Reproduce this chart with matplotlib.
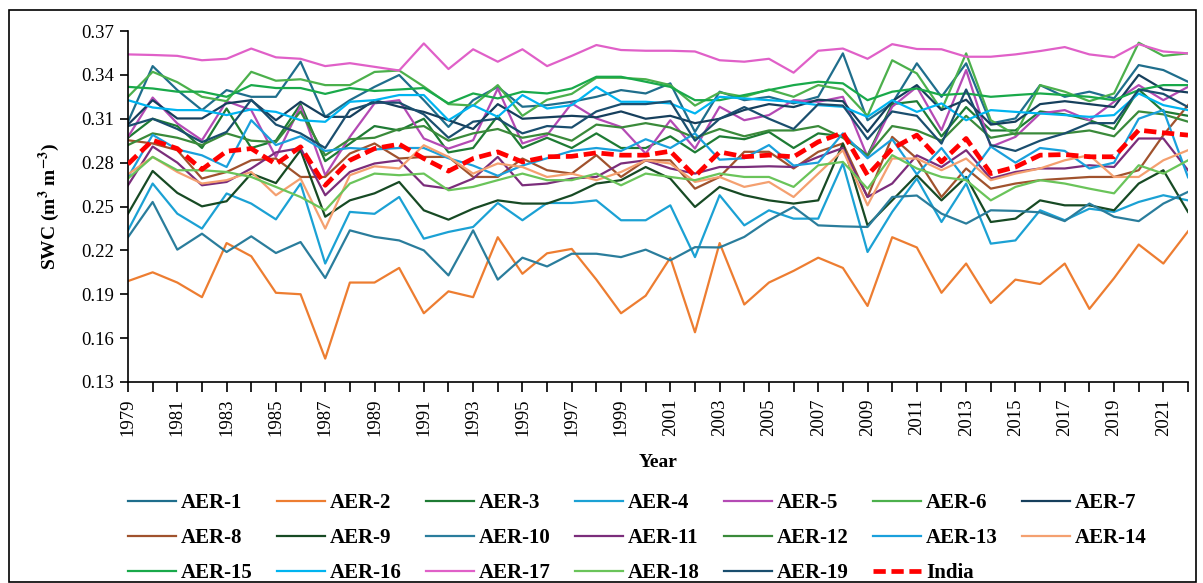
import matplotlib
matplotlib.use("Agg")
import matplotlib.pyplot as plt
from matplotlib.patches import Rectangle

plt.rcParams['font.family'] = ['Liberation Serif', 'DejaVu Serif']
plt.rcParams['mathtext.fontset'] = 'stix'

years = list(range(1979, 2023))

aer1 = [0.3079, 0.346, 0.3296, 0.3159, 0.3296, 0.325, 0.325, 0.349, 0.3113, 0.3227, 0.3318, 0.3399, 0.3227, 0.3044,
        0.3227, 0.3318, 0.3182, 0.3193, 0.3216, 0.325, 0.3296, 0.3273, 0.3342, 0.301, 0.3285, 0.3227, 0.325, 0.3205,
        0.325, 0.3547, 0.309, 0.3205, 0.3479, 0.325, 0.3479, 0.3068, 0.3102, 0.333, 0.325, 0.3285, 0.3239, 0.3467,
        0.3433, 0.3353]
aer2 = [0.199, 0.205, 0.198, 0.188, 0.225, 0.216, 0.191, 0.190, 0.146, 0.198, 0.198, 0.208, 0.177, 0.192,
        0.188, 0.229, 0.204, 0.218, 0.221, 0.200, 0.177, 0.189, 0.215, 0.164, 0.225, 0.183, 0.198, 0.206,
        0.215, 0.208, 0.182, 0.229, 0.222, 0.191, 0.211, 0.184, 0.200, 0.197, 0.211, 0.180, 0.201, 0.224,
        0.211, 0.233]
aer3 = [0.297, 0.31, 0.305, 0.29, 0.317, 0.29, 0.295, 0.32, 0.281, 0.293, 0.305, 0.302, 0.31, 0.287,
        0.29, 0.312, 0.29, 0.297, 0.29, 0.3, 0.29, 0.29, 0.298, 0.287, 0.298, 0.296, 0.301, 0.29,
        0.3, 0.298, 0.285, 0.32, 0.322, 0.298, 0.318, 0.302, 0.302, 0.315, 0.313, 0.309, 0.303, 0.33,
        0.315, 0.312]
aer4 = [0.2337, 0.2657, 0.2451, 0.2349, 0.2589, 0.252, 0.2412, 0.2657, 0.211, 0.2463, 0.245, 0.2565, 0.228, 0.2326,
        0.236, 0.2524, 0.2406, 0.2524, 0.2524, 0.2542, 0.2406, 0.2406, 0.2508, 0.2154, 0.2577, 0.2371, 0.2474, 0.2417,
        0.2417, 0.2794, 0.2189, 0.2463, 0.2691, 0.2394, 0.2657, 0.2246, 0.2268, 0.2474, 0.2406, 0.2485, 0.2463, 0.2531,
        0.2577, 0.2542]
aer5 = [0.2976, 0.3245, 0.3068, 0.2953, 0.322, 0.3159, 0.2839, 0.3186, 0.2714, 0.2976, 0.3205, 0.3227, 0.2965, 0.2896,
        0.2953, 0.3307, 0.2931, 0.2988, 0.3205, 0.3102, 0.3044, 0.2862, 0.309, 0.2896, 0.3182, 0.309, 0.3125, 0.3227,
        0.3216, 0.325, 0.2839, 0.3182, 0.3318, 0.3022, 0.3433, 0.2908, 0.2976, 0.3136, 0.3159, 0.309, 0.3216, 0.333,
        0.3227, 0.3318]
aer6 = [0.325, 0.3421, 0.335, 0.325, 0.322, 0.3421, 0.336, 0.337, 0.333, 0.333, 0.342, 0.343, 0.332, 0.32,
        0.319, 0.333, 0.312, 0.323, 0.327, 0.338, 0.338, 0.337, 0.333, 0.319, 0.328, 0.325, 0.33, 0.325,
        0.333, 0.33, 0.312, 0.350, 0.341, 0.316, 0.3547, 0.309, 0.299, 0.333, 0.3285, 0.322, 0.3273, 0.362,
        0.353, 0.3547]
aer7 = [0.306, 0.3227, 0.3102, 0.3102, 0.3205, 0.3227, 0.309, 0.3216, 0.3113, 0.3113, 0.3227, 0.3182, 0.3147, 0.309,
        0.303, 0.32, 0.31, 0.311, 0.312, 0.311, 0.315, 0.31, 0.312, 0.307, 0.31, 0.316, 0.32, 0.318,
        0.323, 0.322, 0.301, 0.322, 0.333, 0.316, 0.323, 0.306, 0.308, 0.32, 0.322, 0.32, 0.318, 0.34,
        0.33, 0.328]
aer8 = [0.2953, 0.2931, 0.2885, 0.2691, 0.2736, 0.2816, 0.2828, 0.2702, 0.2702, 0.2862, 0.2931, 0.2828, 0.2839, 0.2839,
        0.2702, 0.2702, 0.2828, 0.2748, 0.2725, 0.2851, 0.2702, 0.2816, 0.2816, 0.2622, 0.2702, 0.2874, 0.2874, 0.276,
        0.2874, 0.2931, 0.2565, 0.2976, 0.2828, 0.2565, 0.276, 0.2622, 0.2657, 0.268, 0.2691, 0.2702, 0.2702, 0.2748,
        0.2988, 0.3193]
aer9 = [0.2451, 0.2743, 0.2593, 0.2501, 0.2536, 0.2725, 0.266, 0.2885, 0.243, 0.2542, 0.259, 0.2668, 0.2474, 0.241,
        0.2485, 0.2542, 0.252, 0.252, 0.2577, 0.2657, 0.268, 0.277, 0.2691, 0.2497, 0.2634, 0.2577, 0.2542, 0.252,
        0.2542, 0.293, 0.2371, 0.2542, 0.2714, 0.2542, 0.2702, 0.2394, 0.2417, 0.2542, 0.2508, 0.2508, 0.2474, 0.2657,
        0.2748, 0.2463]
aer10 = [0.229, 0.2531, 0.2205, 0.2314, 0.2189, 0.2296, 0.2182, 0.2257, 0.2011, 0.2337, 0.2292, 0.2268, 0.22, 0.2029,
         0.2337, 0.2, 0.215, 0.209, 0.2177, 0.2177, 0.2154, 0.2205, 0.2132, 0.2222, 0.222, 0.2292, 0.2406, 0.2497,
         0.2371, 0.2364, 0.236, 0.2565, 0.2575, 0.2451, 0.2383, 0.2474, 0.247, 0.246, 0.240, 0.252, 0.243, 0.240,
         0.252, 0.260]
aer11 = [0.2645, 0.291, 0.280, 0.2645, 0.2668, 0.276, 0.287, 0.29, 0.2577, 0.2736, 0.2794, 0.2816, 0.2645, 0.2622,
         0.2691, 0.2839, 0.2645, 0.2657, 0.2691, 0.2702, 0.2794, 0.2816, 0.276, 0.2725, 0.277, 0.277, 0.2775, 0.277,
         0.2839, 0.29, 0.2565, 0.2657, 0.285, 0.277, 0.2885, 0.2691, 0.2736, 0.276, 0.276, 0.2782, 0.277, 0.2965,
         0.2965, 0.2748]
aer12 = [0.292, 0.3, 0.297, 0.292, 0.3, 0.295, 0.294, 0.315, 0.285, 0.296, 0.297, 0.303, 0.305, 0.295,
         0.3, 0.303, 0.297, 0.3, 0.295, 0.306, 0.304, 0.307, 0.304, 0.297, 0.303, 0.298, 0.302, 0.302,
         0.305, 0.297, 0.285, 0.305, 0.302, 0.295, 0.312, 0.297, 0.3, 0.3, 0.3, 0.302, 0.298, 0.315,
         0.313, 0.308]
aer13 = [0.27, 0.299, 0.289, 0.285, 0.277, 0.309, 0.292, 0.298, 0.288, 0.290, 0.289, 0.290, 0.29, 0.283,
         0.278, 0.271, 0.278, 0.283, 0.288, 0.29, 0.288, 0.296, 0.29, 0.300, 0.282, 0.283, 0.292, 0.278,
         0.28, 0.30, 0.283, 0.296, 0.272, 0.290, 0.268, 0.291, 0.280, 0.290, 0.288, 0.276, 0.28, 0.31,
         0.316, 0.27]
aer14 = [0.272, 0.2839, 0.2736, 0.2657, 0.268, 0.2736, 0.2577, 0.2691, 0.2349, 0.2714, 0.2775, 0.276, 0.2919, 0.2839,
         0.2725, 0.2794, 0.277, 0.2702, 0.2725, 0.268, 0.2736, 0.2816, 0.2794, 0.2668, 0.2702, 0.2634, 0.2668, 0.2565,
         0.2725, 0.2885, 0.2508, 0.2828, 0.2828, 0.2748, 0.2828, 0.268, 0.2725, 0.276, 0.2816, 0.2851, 0.2702, 0.2702,
         0.2816, 0.2885]
aer15 = [0.3318, 0.3307, 0.3285, 0.3285, 0.325, 0.333, 0.331, 0.331, 0.327, 0.331, 0.329, 0.330, 0.331, 0.3205,
         0.3273, 0.3239, 0.3285, 0.3273, 0.3307, 0.3387, 0.3387, 0.3353, 0.3318, 0.3227, 0.3227, 0.3262, 0.3296, 0.333,
         0.3353, 0.3342, 0.3227, 0.3285, 0.3307, 0.3262, 0.3273, 0.325, 0.3262, 0.3273, 0.3262, 0.325, 0.3227, 0.3296,
         0.333, 0.333]
aer16 = [0.3227, 0.3177, 0.3159, 0.3159, 0.3125, 0.3164, 0.3147, 0.309, 0.3079, 0.3216, 0.3227, 0.3262, 0.3262, 0.309,
         0.3193, 0.3113, 0.3262, 0.317, 0.3193, 0.3318, 0.3216, 0.3216, 0.3205, 0.3136, 0.325, 0.3239, 0.3227, 0.3216,
         0.3193, 0.3182, 0.3113, 0.3227, 0.3147, 0.3205, 0.309, 0.3159, 0.3147, 0.3136, 0.3125, 0.3113, 0.3125, 0.3273,
         0.3193, 0.3159]
aer17 = [0.354, 0.3536, 0.353, 0.350, 0.351, 0.358, 0.352, 0.351, 0.346, 0.348, 0.3455, 0.343, 0.3615, 0.344,
         0.3575, 0.349, 0.3575, 0.346, 0.353, 0.3604, 0.357, 0.3565, 0.3565, 0.356, 0.350, 0.349, 0.351, 0.3415,
         0.3565, 0.358, 0.351, 0.361, 0.3577, 0.3575, 0.3524, 0.3524, 0.354, 0.3563, 0.359, 0.354, 0.352, 0.361,
         0.356, 0.3547]
aer18 = [0.2691, 0.2839, 0.2748, 0.2748, 0.2736, 0.2702, 0.2634, 0.2565, 0.2474, 0.2657, 0.2725, 0.2714, 0.2725, 0.2611,
         0.2634, 0.268, 0.2725, 0.268, 0.268, 0.2725, 0.2645, 0.2725, 0.2702, 0.268, 0.2725, 0.2702, 0.2702, 0.2634,
         0.2782, 0.2805, 0.2622, 0.2851, 0.276, 0.2702, 0.268, 0.2542, 0.2634, 0.268, 0.2657, 0.2622, 0.259, 0.2782,
         0.2725, 0.2816]
aer19 = [0.305, 0.31, 0.303, 0.294, 0.301, 0.323, 0.306, 0.3, 0.29, 0.316, 0.321, 0.321, 0.313, 0.297,
         0.308, 0.31, 0.30, 0.305, 0.304, 0.315, 0.32, 0.32, 0.322, 0.295, 0.31, 0.318, 0.31, 0.303,
         0.32, 0.319, 0.296, 0.315, 0.312, 0.293, 0.33, 0.292, 0.288, 0.295, 0.3, 0.307, 0.307, 0.33,
         0.327, 0.318]
india = [0.279, 0.2953, 0.2896, 0.2753, 0.2878, 0.2896, 0.279, 0.2908, 0.2645, 0.2816, 0.2896, 0.2926, 0.2828, 0.2742,
         0.2828, 0.2873, 0.2805, 0.284, 0.2843, 0.2867, 0.2851, 0.2851, 0.2878, 0.2707, 0.2873, 0.284, 0.2851, 0.284,
         0.2942, 0.3004, 0.2714, 0.2896, 0.2988, 0.2805, 0.2965, 0.2725, 0.277, 0.2851, 0.2855, 0.284, 0.284, 0.3022,
         0.3004, 0.2988]

series_names = [f"AER-{i}" for i in range(1, 20)]
series_values = [aer1, aer2, aer3, aer4, aer5, aer6, aer7, aer8, aer9, aer10,
                 aer11, aer12, aer13, aer14, aer15, aer16, aer17, aer18, aer19]
colors = ['#1f6e8c', '#ed7d31', '#1e7b34', '#1ba1d4', '#b44ab4', '#4cb04c', '#163f5c',
          '#a0522d', '#174a24', '#2a7d9c', '#7b2d7b', '#3a8a3a', '#1aa0dc', '#f4a070',
          '#19a94a', '#00b4f0', '#e060c8', '#6ac45a', '#1a4e6e']

yticks = [0.13, 0.16, 0.19, 0.22, 0.25, 0.28, 0.31, 0.34, 0.37]
xlabels_years = list(range(1979, 2022, 2))

W, H = 1203, 583
fig = plt.figure(figsize=(W / 100, H / 100), dpi=100)
ax = fig.add_axes([128 / W, 1 - 382 / H, (1188 - 128) / W, (382 - 31) / H])

handles = []
for name, vals, c in zip(series_names, series_values, colors):
    h, = ax.plot(years, vals, color=c, lw=1.6, label=name)
    handles.append(h)
h, = ax.plot(years, india, color='#ff0000', lw=3.4, ls=(0, (2.6, 1.2)), label='India', zorder=5)
handles.append(h)

ax.set_xlim(1979, 2022)
ax.set_ylim(0.13, 0.37)
ax.set_yticks(yticks)
ax.set_yticklabels([f"{v:.2f}" for v in yticks], fontsize=13.5)
ax.set_xticks(years)
ax.set_xticklabels([str(y) if y in xlabels_years else '' for y in years], rotation=90, fontsize=13.5)
ax.tick_params(axis='y', direction='out', length=6, width=1.2, color='black', pad=4)
ax.tick_params(axis='x', direction='out', length=7, width=1.2, color='black', pad=5)
for s in ['top', 'right']:
    ax.spines[s].set_visible(False)
for s in ['left', 'bottom']:
    ax.spines[s].set_color('black')
    ax.spines[s].set_linewidth(1.2)

ax.set_ylabel(r'SWC (m$^{\mathbf{3}}$ m$^{\mathbf{-3}}$)', fontsize=14, fontweight='bold', labelpad=14)
ax.set_xlabel('Year', fontsize=14, fontweight='bold', labelpad=13)

# reorder so that legend reads row by row
ncol = 7
order = []
for j in range(ncol):
    for r in range(3):
        k = r * ncol + j
        if k < len(handles):
            order.append(k)
leg_handles = [handles[k] for k in order]

leg = fig.legend(handles=leg_handles, loc='upper left', bbox_to_anchor=(128 / W, 1 - 493 / H), ncol=ncol,
                 frameon=False, borderpad=0, borderaxespad=0,
                 prop={'family': 'Liberation Serif', 'weight': 'bold', 'size': 15},
                 handlelength=2.3, handletextpad=0.25, columnspacing=1.15, labelspacing=0.72)

fig.patches.append(Rectangle((9 / W, 1 - 582 / H), (1196 - 9) / W, (582 - 10) / H, transform=fig.transFigure,
                             fill=False, edgecolor='black', lw=1.2))

fig.savefig('out.png', dpi=100)
